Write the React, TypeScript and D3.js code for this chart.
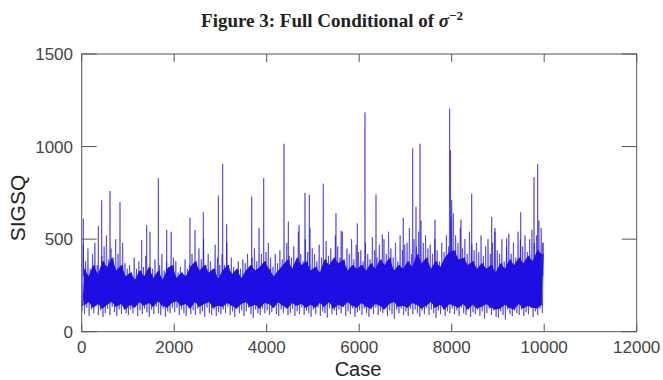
import React from 'react'
import * as d3 from 'd3'

const coreBin = 100
const coreHigh = [
  340, 300, 360, 310, 380, 350, 400, 330, 360, 300,
  320, 280, 330, 300, 350, 290, 330, 280, 340, 360,
  290, 320, 300, 350, 380, 330, 360, 320, 340, 290,
  330, 360, 310, 340, 290, 330, 360, 330, 350, 380,
  340, 300, 330, 360, 390, 340, 400, 360, 380, 330,
  350, 320, 390, 360, 400, 370, 390, 330, 360, 340,
  360, 330, 370, 340, 390, 360, 400, 330, 360, 340,
  380, 350, 420, 370, 400, 340, 380, 350, 400, 430,
  440, 390, 400, 360, 380, 340, 370, 340, 360, 320,
  370, 340, 390, 360, 400, 370, 410, 380, 440, 420
]
const coreLow = [
  140, 160, 130, 150, 125, 145, 160, 135, 150, 120,
  145, 130, 160, 140, 155, 135, 165, 140, 130, 155,
  165, 140, 150, 125, 160, 135, 150, 160, 130, 140,
  135, 155, 140, 125, 150, 160, 135, 145, 125, 155,
  150, 130, 160, 140, 125, 155, 140, 150, 130, 145,
  130, 155, 135, 160, 125, 145, 135, 160, 140, 130,
  155, 135, 125, 150, 140, 120, 150, 160, 135, 140,
  130, 155, 145, 125, 140, 160, 130, 145, 120, 150,
  140, 130, 150, 120, 145, 125, 135, 150, 130, 120,
  125, 145, 130, 120, 150, 125, 140, 130, 125, 145
]

// light fringe around the band, bins of 50 cases
const fringeBin = 50
const fringeHigh = [
  470, 380, 450, 340, 420, 480, 360, 300, 410, 460,
  520, 390, 450, 350, 500, 420, 330, 480, 370, 340,
  360, 310, 400, 340, 380, 320, 350, 410, 330, 300,
  340, 390, 310, 360, 420, 330, 380, 350, 540, 400,
  380, 320, 350, 300, 390, 340, 360, 420, 310, 370,
  450, 390, 500, 360, 420, 380, 340, 470, 400, 360,
  420, 360, 480, 330, 400, 350, 310, 380, 340, 390,
  370, 420, 340, 400, 450, 380, 560, 420, 360, 430,
  480, 400, 350, 420, 370, 440, 390, 340, 480, 410,
  400, 460, 370, 540, 420, 380, 500, 430, 560, 450,
  420, 380, 470, 400, 350, 490, 410, 450, 380, 520,
  460, 400, 540, 380, 450, 420, 500, 390, 470, 430,
  440, 380, 480, 420, 390, 510, 440, 400, 470, 360,
  500, 420, 540, 450, 400, 480, 380, 520, 440, 470,
  480, 560, 420, 500, 460, 540, 600, 480, 520, 450,
  470, 420, 500, 440, 380, 480, 430, 520, 460, 620,
  640, 520, 480, 560, 450, 500, 420, 540, 470, 440,
  480, 430, 520, 410, 460, 500, 420, 480, 540, 440,
  420, 500, 380, 460, 530, 420, 480, 400, 540, 500,
  460, 520, 430, 500, 550, 480, 520, 600, 560, 480
]
const fringeLow = [
  110, 95, 130, 85, 120, 100, 140, 90, 115, 80,
  100, 125, 90, 135, 105, 85, 120, 95, 130, 100,
  90, 120, 100, 140, 85, 115, 95, 125, 105, 80,
  120, 95, 135, 100, 90, 125, 80, 110, 100, 130,
  105, 130, 90, 120, 100, 85, 135, 95, 115, 90,
  125, 95, 110, 80, 130, 100, 90, 120, 85, 105,
  95, 120, 100, 135, 90, 110, 80, 125, 100, 115,
  85, 110, 130, 95, 75, 120, 100, 90, 125, 100,
  115, 90, 105, 130, 95, 85, 120, 100, 135, 90,
  100, 125, 85, 110, 95, 130, 90, 115, 100, 80,
  120, 95, 130, 85, 110, 100, 75, 125, 95, 115,
  90, 120, 100, 135, 85, 110, 95, 125, 80, 105,
  115, 90, 125, 100, 80, 120, 95, 130, 90, 110,
  100, 130, 85, 115, 95, 70, 120, 100, 125, 90,
  110, 85, 125, 95, 120, 100, 80, 115, 95, 130,
  90, 120, 100, 75, 115, 95, 130, 85, 110, 100,
  125, 95, 115, 85, 130, 100, 90, 120, 80, 105,
  95, 120, 85, 110, 70, 100, 125, 90, 115, 80,
  75, 110, 90, 65, 120, 95, 85, 115, 100, 90,
  120, 85, 105, 95, 130, 80, 110, 90, 125, 100
]

// isolated spikes
const spikeCase = [
  35, 360, 432, 612, 828, 1297, 1405, 1477, 1657, 1838, 2341, 2450, 2630,
  2955, 3048, 3135, 3676, 3935, 4374, 4468, 4700, 4828, 4922, 5224, 5498,
  5610, 5960, 6125, 6363, 6500, 6953, 7156, 7228, 7315, 7639, 7955, 7975,
  8000, 8200, 8432, 8865, 8935, 9189, 9492, 9780, 9859, 9968
]
const spikeValue = [
  610, 570, 710, 760, 700, 495, 575, 540, 830, 550, 615, 550, 645,
  735, 905, 580, 730, 830, 1015, 595, 575, 750, 740, 800, 640,
  545, 585, 1185, 740, 525, 615, 990, 675, 1015, 605, 1205, 980,
  710, 605, 745, 620, 560, 505, 645, 835, 905, 480
]

const xTicks = [0, 2000, 4000, 6000, 8000, 10000, 12000]
const yTicks = [0, 500, 1000, 1500]

const W = 663
const H = 380
const left = 81.7
const right = 636.7
const top = 54
const bottom = 331.7

export default function App() {
  const x = d3.scaleLinear().domain([0, 12000]).range([left, right])
  const y = d3.scaleLinear().domain([0, 1500]).range([bottom, top])
  const line = d3
    .line<[number, number]>()
    .x(d => x(d[0]))
    .y(d => y(d[1]))

  const coreIdx = d3.range(coreHigh.length)
  const band = d3
    .area<number>()
    .x(i => x(i * coreBin + coreBin / 2))
    .y0(i => y(coreLow[i]))
    .y1(i => y(coreHigh[i]))(coreIdx)

  const corePts: [number, number][] = []
  coreIdx.forEach(i => {
    corePts.push([i * coreBin + 25, coreLow[i]])
    corePts.push([i * coreBin + 75, coreHigh[i]])
  })

  const fringePts: [number, number][] = []
  fringeHigh.forEach((v, j) => {
    fringePts.push([j * fringeBin + 10, fringeLow[j]])
    fringePts.push([j * fringeBin + 35, v])
  })

  const spikes = spikeCase.map((c, i) =>
    line([
      [c - 6, 300],
      [c, spikeValue[i]],
      [c + 6, 300]
    ])
  )

  const blue = '#1f0ee2'
  const axisColor = '#555'
  const sans = 'Liberation Sans, Arial, sans-serif'

  return (
    <svg
      width={W}
      height={H}
      style={{ position: 'absolute', left: 0, top: 0, background: '#fff' }}
    >
      <text
        x={332}
        y={27}
        textAnchor="middle"
        fontFamily="Liberation Serif, Times New Roman, serif"
        fontWeight="bold"
        fontSize={19}
        fill="#222"
      >
        Figure 3: Full Conditional of{' '}
        <tspan fontStyle="italic">σ</tspan>
        <tspan dy={-7} fontSize={13}>
          −2
        </tspan>
      </text>

      <rect
        x={left}
        y={top}
        width={right - left}
        height={bottom - top}
        fill="#fff"
        stroke={axisColor}
        strokeWidth={1}
      />

      <path d={line(fringePts) ?? ''} fill="none" stroke={blue} strokeWidth={1} strokeOpacity={0.55} />
      {spikes.map((d, i) => (
        <path key={i} d={d ?? ''} fill="none" stroke={blue} strokeWidth={1} strokeOpacity={0.55} />
      ))}
      <path d={band ?? ''} fill={blue} />
      <path d={line(corePts) ?? ''} fill="none" stroke={blue} strokeWidth={1.2} />

      {xTicks.map(t => (
        <g key={'x' + t}>
          <line x1={x(t)} x2={x(t)} y1={bottom} y2={bottom - 8} stroke={axisColor} />
          <line x1={x(t)} x2={x(t)} y1={top} y2={top + 8} stroke={axisColor} />
          <text
            x={x(t)}
            y={353}
            textAnchor="middle"
            fontFamily={sans}
            fontSize={17}
            fill="#444"
          >
            {t}
          </text>
        </g>
      ))}
      {yTicks.map(t => (
        <g key={'y' + t}>
          <line x1={left} x2={left + 15} y1={y(t)} y2={y(t)} stroke={axisColor} />
          <line x1={right} x2={right - 15} y1={y(t)} y2={y(t)} stroke={axisColor} />
          <text
            x={73}
            y={y(t) + 6}
            textAnchor="end"
            fontFamily={sans}
            fontSize={17}
            fill="#444"
          >
            {t}
          </text>
        </g>
      ))}

      <text
        x={358}
        y={376}
        textAnchor="middle"
        fontFamily={sans}
        fontSize={20}
        fill="#222"
      >
        Case
      </text>
      <text
        transform="translate(25,208) rotate(-90)"
        textAnchor="middle"
        fontFamily={sans}
        fontSize={21}
        fill="#222"
      >
        SIGSQ
      </text>
    </svg>
  )
}
